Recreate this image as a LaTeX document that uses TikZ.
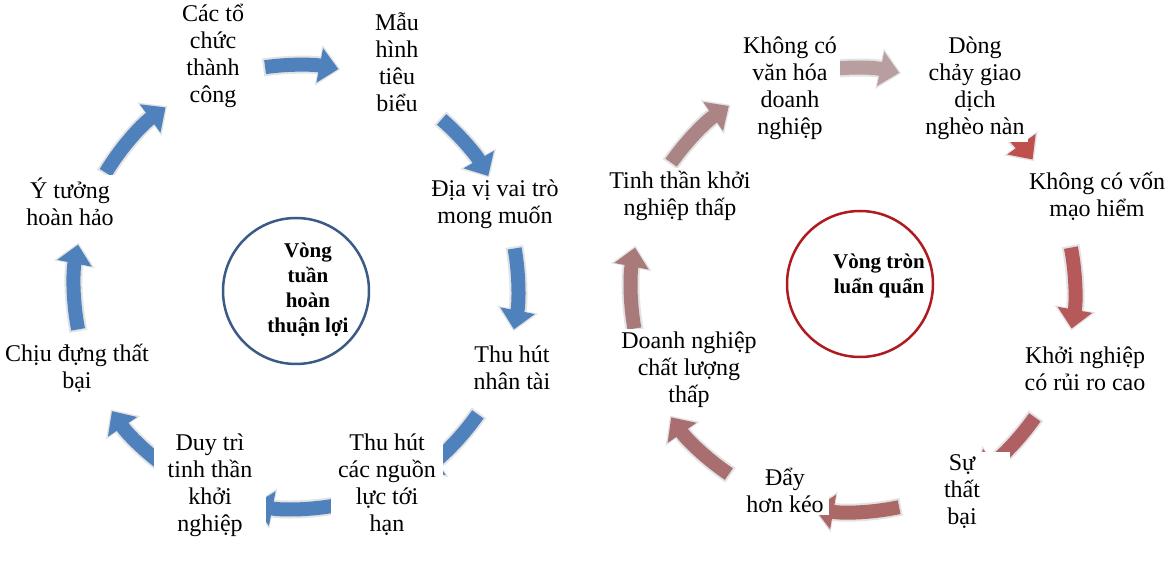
\documentclass[tikz,border=0pt]{standalone}
\usepackage{fontspec}
\setmainfont{Liberation Serif}
\usetikzlibrary{arrows.meta}
\definecolor{arrblue}{HTML}{4F81BD}
\definecolor{ringblue}{HTML}{3B5A85}
\definecolor{ringred}{HTML}{AE1A1E}
\definecolor{redA}{HTML}{B89E9E}
\definecolor{redB}{HTML}{C0504D}
\definecolor{redC}{HTML}{B5595A}
\definecolor{redD}{HTML}{B06062}
\definecolor{redE}{HTML}{AC6767}
\definecolor{redF}{HTML}{A96F70}
\definecolor{redG}{HTML}{A87A7A}
\definecolor{redH}{HTML}{AB8585}
\tikzset{
	txt/.style={fill=white, align=center, inner sep=3pt, font=\fontsize{24}{27}\selectfont},
	midtxt/.style={align=center, inner sep=2pt, font=\bfseries\fontsize{21}{25}\selectfont},
	bigarrow/.style={line width=14pt, -{Triangle[width=34pt,length=19pt]},
		preaction={draw=gray!22, line width=18pt, shorten >=-2pt, shorten <=-2pt,
			-{Triangle[width=40pt,length=22pt]}}},
	ring/.style={circle, line width=2.5pt, minimum size=146pt, inner sep=0pt}
}
\begin{document}
\begin{tikzpicture}[x=1pt,y=1pt]
		\useasboundingbox (0,0) rectangle (1168,562);
		\coordinate (L) at (296,275);
		\coordinate (R) at (853,272);
		% left cycle
		\draw [bigarrow, draw=arrblue] ([shift={(98:222pt)}]L) arc (98:79:222pt);
		\draw [bigarrow, draw=arrblue] ([shift={(49:222pt)}]L) arc (49:30:222pt);
		\draw [bigarrow, draw=arrblue] ([shift={(10:222pt)}]L) arc (10:-11:222pt);
		\draw [bigarrow, draw=arrblue] ([shift={(-35:222pt)}]L) arc (-35:-56:222pt);
		\draw [bigarrow, draw=arrblue] ([shift={(-80:222pt)}]L) arc (-80:-101:222pt);
		\draw [bigarrow, draw=arrblue] ([shift={(-125:222pt)}]L) arc (-125:-146:222pt);
		\draw [bigarrow, draw=arrblue] ([shift={(191:222pt)}]L) arc (191:169:222pt);
		\draw [bigarrow, draw=arrblue] ([shift={(149:222pt)}]L) arc (149:126:222pt);
		\node [txt] (cac) at (213,506) {Các tổ\\chức\\thành\\công};
		\node [txt] (mau) at (397,500) {Mẫu\\hình\\tiêu\\biểu};
		\node [txt] (diavi) at (495,358) {Địa vị vai trò\\mong muốn};
		\node [txt] (nhantai) at (512,194) {Thu hút\\nhân tài};
		\node [txt, minimum width=112pt] (nguonluc) at (387,77) {Thu hút\\các nguồn\\lực tới\\hạn};
		\node [txt, minimum width=112pt] (duytri) at (210,77) {Duy trì\\tinh thần\\khởi\\nghiệp};
		\node [txt] (chiu) at (77,194) {Chịu đựng thất\\bại};
		\node [txt] (ytuong) at (70,360) {Ý tưởng\\hoàn hảo};
		\node [ring, draw=ringblue] (ringL) at (296,271) {};
		\node [midtxt] (vongL) at (308,272) {Vòng\\tuần\\hoàn\\thuận lợi};
		% right cycle
		\draw [bigarrow, draw=redA] ([shift={(100:222pt)}]R) arc (100:78:222pt);
		\draw [bigarrow, draw=redB] ([shift={(57:222pt)}]R) arc (57:36:222pt);
		\draw [bigarrow, draw=redC] ([shift={(11:222pt)}]R) arc (11:-10:222pt);
		\draw [bigarrow, draw=redD] ([shift={(-35:222pt)}]R) arc (-35:-56:222pt);
		\draw [bigarrow, draw=redE] ([shift={(-78:222pt)}]R) arc (-78:-100:222pt);
		\draw [bigarrow, draw=redF] ([shift={(-124:222pt)}]R) arc (-124:-145:222pt);
		\draw [bigarrow, draw=redG] ([shift={(190:222pt)}]R) arc (190:169:222pt);
		\draw [bigarrow, draw=redH] ([shift={(145:222pt)}]R) arc (145:124:222pt);
		\node [txt] (vanhoa) at (790,474) {Không có\\văn hóa\\doanh\\nghiệp};
		\node [txt] (dongchay) at (975,474) {Dòng\\chảy giao\\dịch\\nghèo nàn};
		\node [txt] (vonmh) at (1097,366) {Không có vốn\\mạo hiểm};
		\node [txt] (ruiro) at (1085,193) {Khởi nghiệp\\có rủi ro cao};
		\node [txt, minimum width=96pt] (thatbai) at (962,70) {Sự\\thất\\bại};
		\node [txt, minimum width=88pt] (daykeo) at (785,72) {Đẩy\\hơn kéo};
		\node [txt] (dnclt) at (689,192) {Doanh nghiệp\\chất lượng\\thấp};
		\node [txt] (tinhthan) at (680,366) {Tinh thần khởi\\nghiệp thấp};
		\node [ring, draw=ringred] (ringR) at (860,278) {};
		\node [midtxt] (vongR) at (879,286) {Vòng tròn\\luẩn quẩn};
\end{tikzpicture}
\end{document}
